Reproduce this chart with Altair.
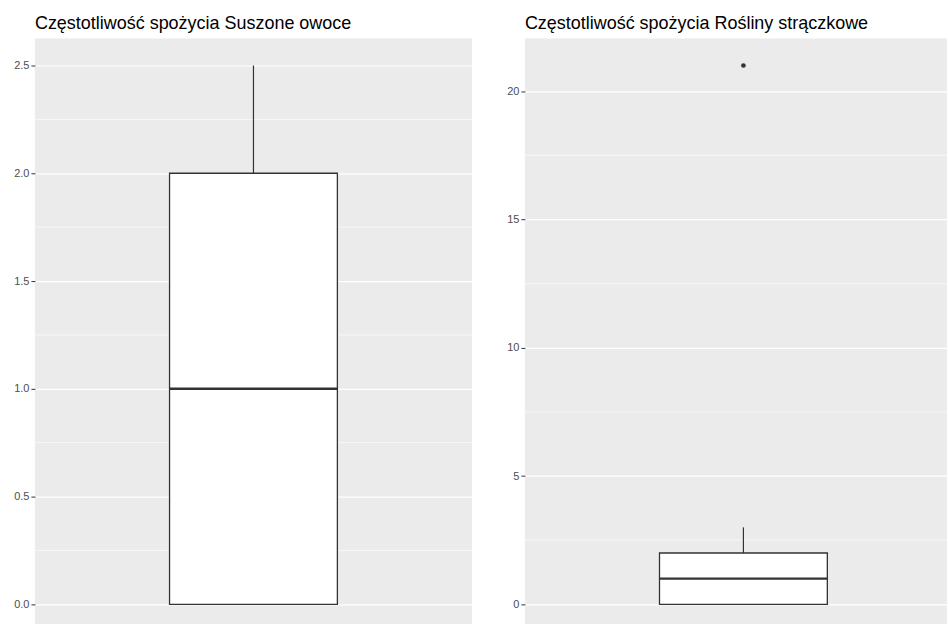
import altair as alt
import pandas as pd

# Summary statistics for each food group (frequency of consumption)
categories = ["Suszone owoce", "Rośliny strączkowe"]
q1 = [0, 0]
median = [1, 1]
q3 = [2, 2]
whisker_lo = [0, 0]
whisker_hi = [2.5, 3]
outliers = [[], [21]]

# Axis breaks per panel
major_breaks = [[0, 0.5, 1, 1.5, 2, 2.5], [0, 5, 10, 15, 20]]
minor_breaks = [[0.25, 0.75, 1.25, 1.75, 2.25], [2.5, 7.5, 12.5, 17.5]]
label_formats = [".1f", "d"]

# Layout of each panel
y_domains = [[-0.093, 2.625], [-0.78, 22.05]]
x_domains = [[-0.5, 0.5], [-0.5, 0.4658]]
panel_widths = [438, 423]
axis_extents = [35, 30]
PANEL_HEIGHT = 587
BOX_HALF = 0.192

GRID = "white"
INK = "#333333"
FONT = "Liberation Sans"


def panel(i):
    box = pd.DataFrame({
        "pos": [0.0],
        "xl": [-BOX_HALF],
        "xr": [BOX_HALF],
        "q1": [q1[i]],
        "med": [median[i]],
        "q3": [q3[i]],
        "lo": [whisker_lo[i]],
        "hi": [whisker_hi[i]],
    })
    out = pd.DataFrame({"pos": [0.0] * len(outliers[i]), "v": outliers[i]})
    minor = pd.DataFrame({"v": minor_breaks[i]})

    xs = alt.Scale(domain=x_domains[i], nice=False, zero=False)
    ys = alt.Scale(domain=y_domains[i], nice=False, zero=False)
    axis = alt.Axis(
        values=major_breaks[i], format=label_formats[i], grid=True,
        gridColor=GRID, gridWidth=1.2, domain=False, tickColor=INK,
        tickSize=4, tickWidth=1, labelPadding=2, labelFontSize=11,
        labelColor="#4D4D4D", labelFont=FONT, title=None,
        minExtent=axis_extents[i], maxExtent=axis_extents[i],
    )

    def Y(field):
        return alt.Y(f"{field}:Q", scale=ys, axis=axis, title=None)

    def X(field):
        return alt.X(f"{field}:Q", scale=xs, axis=None, title=None)

    minor_grid = alt.Chart(minor).mark_rule(color=GRID, strokeWidth=0.6).encode(y=Y("v"))
    upper = alt.Chart(box).mark_rule(color=INK, strokeWidth=1.2).encode(
        x=X("pos"), y=Y("q3"), y2="hi:Q")
    lower = alt.Chart(box).mark_rule(color=INK, strokeWidth=1.2).encode(
        x=X("pos"), y=Y("lo"), y2="q1:Q")
    body = alt.Chart(box).mark_rect(fill="white", stroke=INK, strokeWidth=1.3).encode(
        x=X("xl"), x2="xr:Q", y=Y("q1"), y2="q3:Q")
    mid = alt.Chart(box).mark_rule(color=INK, strokeWidth=2.4).encode(
        x=X("xl"), x2="xr:Q", y=Y("med"))
    layers = [minor_grid, upper, lower, body, mid]
    if len(out):
        layers.append(alt.Chart(out).mark_point(
            filled=True, color=INK, size=22, opacity=1).encode(x=X("pos"), y=Y("v")))

    return alt.layer(*layers).properties(
        width=panel_widths[i],
        height=PANEL_HEIGHT,
        title=alt.TitleParams(
            f"Częstotliwość spożycia {categories[i]}", anchor="start",
            frame="group", font=FONT, fontSize=18, fontWeight="normal",
            color="black", offset=6,
        ),
    )


chart = alt.hconcat(panel(0), panel(1), spacing=22).properties(
    padding={"left": 0, "top": 14, "right": 0, "bottom": 0},
    background="white",
).configure_view(fill="#EBEBEB", stroke=None)

chart.save("out.html", embed_options={"renderer": "svg", "actions": False})
